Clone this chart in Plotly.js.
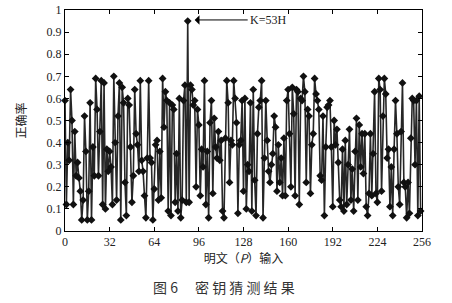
<!DOCTYPE html>
<html>
<head>
<meta charset="utf-8">
<script src="https://cdn.plot.ly/plotly-3.0.1.min.js"></script>
<style>html,body{margin:0;padding:0;background:#fff;}#chart{width:452px;height:303px;}</style>
</head>
<body>
<div id="chart"></div>
<script>
// Correct rate for each plaintext input 0..255
const accuracy = [
0.59,0.12,0.40,0.32,0.64,0.50,0.12,0.45,0.25,0.31,0.24,0.18,0.05,0.14,0.52,0.36,
0.05,0.18,0.58,0.05,0.38,0.25,0.69,0.55,0.25,0.45,0.68,0.12,0.67,0.10,0.37,0.27,
0.36,0.29,0.12,0.70,0.40,0.14,0.52,0.67,0.05,0.65,0.58,0.22,0.07,0.60,0.57,0.38,
0.13,0.25,0.64,0.44,0.39,0.27,0.68,0.32,0.27,0.16,0.06,0.33,0.68,0.33,0.31,0.05,
0.19,0.39,0.41,0.14,0.36,0.15,0.69,0.47,0.63,0.59,0.09,0.58,0.07,0.57,0.55,0.13,
0.35,0.09,0.60,0.06,0.14,0.59,0.66,0.13,0.95,0.13,0.66,0.64,0.57,0.59,0.20,0.55,
0.48,0.16,0.37,0.29,0.68,0.12,0.36,0.06,0.49,0.59,0.17,0.51,0.38,0.33,0.45,0.32,
0.41,0.09,0.06,0.42,0.68,0.58,0.22,0.41,0.39,0.68,0.60,0.49,0.08,0.39,0.41,0.59,
0.18,0.60,0.10,0.30,0.27,0.58,0.09,0.64,0.23,0.07,0.44,0.56,0.59,0.68,0.06,0.33,
0.59,0.41,0.27,0.22,0.30,0.35,0.52,0.47,0.18,0.39,0.22,0.33,0.16,0.42,0.16,0.59,
0.64,0.44,0.20,0.65,0.53,0.16,0.64,0.63,0.12,0.60,0.59,0.70,0.63,0.22,0.55,0.52,
0.17,0.39,0.44,0.69,0.62,0.59,0.55,0.25,0.23,0.52,0.07,0.38,0.56,0.57,0.59,0.38,
0.11,0.50,0.39,0.46,0.31,0.14,0.11,0.37,0.09,0.41,0.12,0.30,0.46,0.14,0.28,0.09,
0.36,0.51,0.14,0.48,0.29,0.44,0.26,0.44,0.11,0.07,0.17,0.44,0.16,0.35,0.63,0.17,
0.13,0.69,0.64,0.18,0.52,0.69,0.62,0.33,0.37,0.11,0.29,0.07,0.37,0.59,0.44,0.20,
0.12,0.45,0.67,0.22,0.20,0.06,0.22,0.08,0.42,0.60,0.59,0.30,0.59,0.07,0.61,0.09
];
const plaintext = accuracy.map((_, i) => i);
const xTicks = [0, 32, 64, 96, 128, 160, 192, 224, 256];
const yTicks = [0, 0.1, 0.2, 0.3, 0.4, 0.5, 0.6, 0.7, 0.8, 0.9, 1];
const yTickText = ['0','0.1','0.2','0.3','0.4','0.5','0.6','0.7','0.8','0.9','1'];
const peakX = 88, peakY = 0.95;
const peakLabel = 'K=53H';
const xTitle = '明文（<i>P</i>）输入';
const yTitle = '正确率';
const caption = '图 6　 密 钥 猜 测 结 果';

const serif = 'Liberation Serif, Times New Roman, serif';
const cjk = 'Noto Sans CJK SC, sans-serif';

const trace = {
  x: plaintext, y: accuracy, type: 'scatter', mode: 'lines+markers',
  line: {color: '#262626', width: 1.6},
  marker: {symbol: 'diamond', size: 6, color: '#111'},
  cliponaxis: false, hoverinfo: 'skip'
};

const axisCommon = {
  showgrid: false, zeroline: false, showline: true, linecolor: '#000', linewidth: 1,
  mirror: 'ticks', ticks: 'inside', ticklen: 4, tickcolor: '#000',
  tickfont: {family: serif, size: 12, color: '#222'}
};

const layout = {
  width: 452, height: 303,
  margin: {l: 65, r: 30, t: 10, b: 72},
  paper_bgcolor: '#fff', plot_bgcolor: '#fff',
  showlegend: false,
  xaxis: Object.assign({}, axisCommon, {
    range: [0, 256], tickmode: 'array', tickvals: xTicks,
    title: {text: xTitle, font: {family: cjk, size: 12, color: '#222'}, standoff: 6}
  }),
  yaxis: Object.assign({}, axisCommon, {
    range: [0, 1], tickmode: 'array', tickvals: yTicks, ticktext: yTickText,
    title: {text: yTitle, font: {family: cjk, size: 12, color: '#222'}, standoff: 17}
  }),
  annotations: [
    {x: peakX + 5, y: peakY + 0.005, xref: 'x', yref: 'y',
     ax: peakX + 43, ay: peakY + 0.005, axref: 'x', ayref: 'y',
     text: peakLabel, xanchor: 'left', showarrow: true,
     arrowhead: 1, arrowsize: 1.6, arrowwidth: 1, arrowcolor: '#000',
     font: {family: serif, size: 12, color: '#222'}},
    {x: 0.445, y: -0.253, xref: 'paper', yref: 'paper', xanchor: 'center', yanchor: 'middle',
     text: caption, showarrow: false,
     font: {family: cjk, size: 14, color: '#333'}}
  ]
};

Plotly.newPlot('chart', [trace], layout, {displayModeBar: false, staticPlot: true});
</script>
</body>
</html>
